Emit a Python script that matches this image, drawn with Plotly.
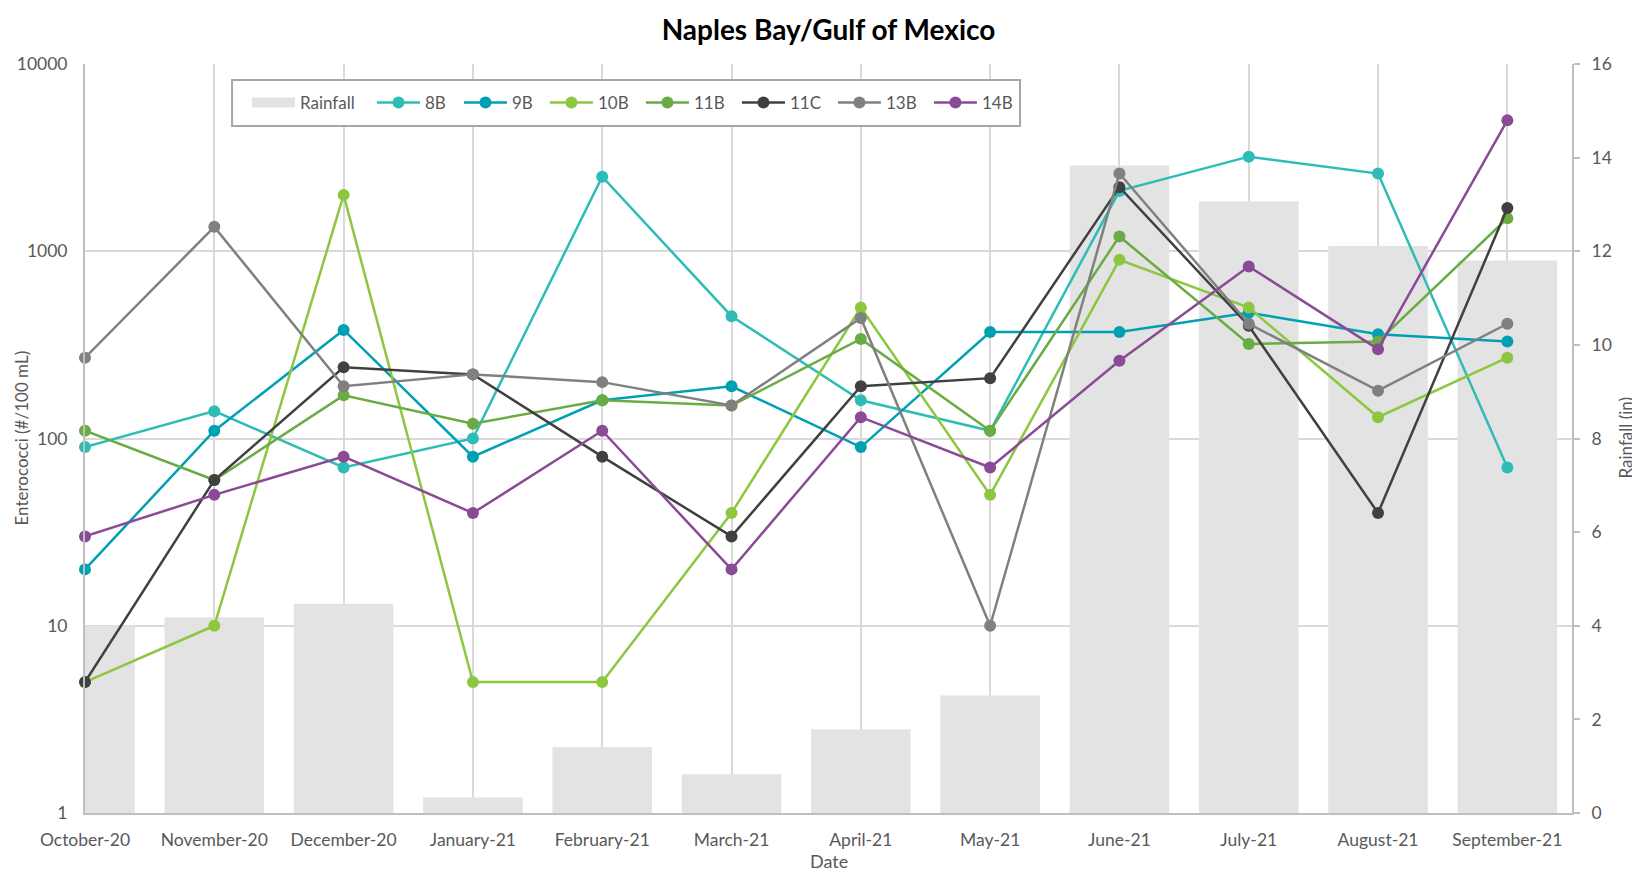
import plotly.graph_objects as go

# data
months = ["October-20", "November-20", "December-20", "January-21", "February-21", "March-21",
          "April-21", "May-21", "June-21", "July-21", "August-21", "September-21"]
rainfall = [4.0, 4.18, 4.47, 0.33, 1.41, 0.83, 1.79, 2.51, 13.83, 13.07, 12.11, 11.80]

s_8b = [90, 140, 70, 100, 2500, 450, 160, 110, 2100, 3200, 2600, 70]
s_9b = [20, 110, 380, 80, 160, 190, 90, 370, 370, 470, 360, 330]
s_10b = [5, 10, 2000, 5, 5, 40, 500, 50, 900, 500, 130, 270]
s_11b = [110, 60, 170, 120, 160, 150, 340, 110, 1200, 320, 330, 1500]
s_11c = [5, 60, 240, 220, 80, 30, 190, 210, 2200, 400, 40, 1700]
s_13b = [270, 1350, 190, 220, 200, 150, 440, 10, 2600, 410, 180, 410]
s_14b = [30, 50, 80, 40, 110, 20, 130, 70, 260, 830, 300, 5000]

# name, values, colour, legend group (two legend rows keep Excel-like spacing)
series = [
    ("8B", s_8b, "#2DBDB6", "legend2"),
    ("9B", s_9b, "#00A0B3", "legend2"),
    ("10B", s_10b, "#8DC63F", "legend3"),
    ("11B", s_11b, "#6AAB43", "legend3"),
    ("11C", s_11c, "#404040", "legend3"),
    ("13B", s_13b, "#808080", "legend3"),
    ("14B", s_14b, "#8A4A96", "legend3"),
]

FONT = "Lato, 'Open Sans', sans-serif"
GRID = "#D9D9D9"
AXIS = "#BFBFBF"
TEXT = "#595959"
BAR = "#E3E3E3"

fig = go.Figure()

fig.add_trace(go.Bar(
    x=months, y=rainfall, name="Rainfall", yaxis="y", showlegend=False,
    width=0.77, marker=dict(color=BAR, line=dict(width=0)),
))
# legend-only entry so the key is a wide grey block like the original
fig.add_trace(go.Scatter(
    x=[None], y=[None], name="Rainfall", mode="lines", yaxis="y",
    line=dict(color=BAR, width=10), legend="legend",
))

for name, vals, color, leg in series:
    fig.add_trace(go.Scatter(
        x=months, y=vals, name=name, yaxis="y2", legend=leg,
        mode="lines+markers", cliponaxis=False,
        line=dict(color=color, width=2.5),
        marker=dict(color=color, size=12),
    ))

legend_common = dict(
    orientation="h", yanchor="middle", y=0.948, xanchor="left",
    bgcolor="rgba(0,0,0,0)", borderwidth=0, itemwidth=43,
    font=dict(size=17, color=TEXT), traceorder="normal",
)

fig.update_layout(
    width=1632, height=865,
    paper_bgcolor="white", plot_bgcolor="white",
    font=dict(family=FONT, size=17, color=TEXT),
    margin=dict(l=77, r=68, t=56, b=60),
    title=dict(
        text="<b>Naples Bay/Gulf of Mexico</b>",
        x=0.5, xref="paper", y=1 - 22 / 865, yanchor="middle",
        font=dict(family=FONT, size=28, color="#000000"),
    ),
    xaxis=dict(
        type="category", range=[0, 11.5], automargin=False,
        showgrid=True, gridcolor=GRID, gridwidth=1.5,
        showline=True, linecolor=AXIS, linewidth=2,
        ticks="", ticklabelstandoff=10, tickfont=dict(size=17.5, color=TEXT),
    ),
    yaxis=dict(
        side="right", range=[0, 16], dtick=2, automargin=False,
        showgrid=False, zeroline=False,
        showline=True, linecolor=AXIS, linewidth=2,
        ticks="outside", ticklen=6, tickcolor=AXIS, tickwidth=1.5,
        ticklabelstandoff=8, tickfont=dict(size=17.5, color=TEXT),
    ),
    yaxis2=dict(
        overlaying="y", side="left", type="log", range=[0, 4], automargin=False,
        tickvals=[1, 10, 100, 1000, 10000],
        ticktext=["1", "10", "100", "1000", "10000"],
        showgrid=True, gridcolor=GRID, gridwidth=1.5,
        showline=True, linecolor=AXIS, linewidth=2, zeroline=False,
        ticks="", ticklabelstandoff=12, tickfont=dict(size=17.5, color=TEXT),
    ),
    legend=dict(legend_common, x=0.1089),
    legend2=dict(legend_common, x=0.1930, entrywidth=29),
    legend3=dict(legend_common, x=0.3093, entrywidth=38),
    shapes=[
        dict(type="rect", xref="paper", yref="paper",
             x0=0.0989, x1=0.6288, y0=0.9172, y1=0.9786,
             line=dict(color="#A6A6A6", width=2), fillcolor="white", layer="above"),
    ],
    annotations=[
        dict(text="Date", xref="paper", yref="paper", x=0.5, y=-48 / 749,
             xanchor="center", yanchor="middle", showarrow=False,
             font=dict(size=18, color=TEXT)),
        dict(text="Enterococci (#/100 mL)", xref="paper", yref="paper",
             x=-64 / 1487, y=0.5, textangle=-90, xanchor="center", yanchor="middle",
             showarrow=False, font=dict(size=17, color=TEXT)),
        dict(text="Rainfall (in)", xref="paper", yref="paper",
             x=1 + 53 / 1487, y=0.5, textangle=-90, xanchor="center", yanchor="middle",
             showarrow=False, font=dict(size=17, color=TEXT)),
    ],
)

fig.write_html("out.html")
